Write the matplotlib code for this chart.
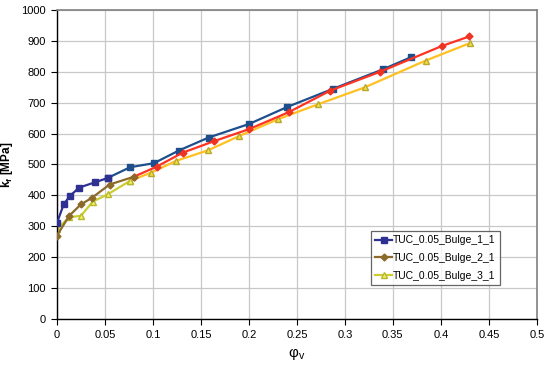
import numpy as np
import matplotlib.pyplot as plt

plt.rcParams['font.family'] = ['Liberation Sans', 'DejaVu Sans']

# data
x1 = [0, 0.007, 0.0135, 0.023, 0.0395, 0.0527, 0.0762, 0.101, 0.127, 0.158, 0.2003, 0.240, 0.288, 0.340, 0.369]
y1 = [311, 371, 398, 425, 442, 456, 491, 504, 545, 587, 631, 686, 745, 808, 847]

x2 = [0, 0.0128, 0.025, 0.036, 0.0548, 0.080, 0.104, 0.131, 0.1635, 0.200, 0.2415, 0.285, 0.337, 0.401, 0.4297]
y2 = [270, 334, 371, 391, 435, 460, 493, 538, 575, 614, 669, 739, 800, 883, 914]

x3 = [0, 0.0128, 0.025, 0.0374, 0.0527, 0.0762, 0.0977, 0.1237, 0.1577, 0.190, 0.230, 0.2716, 0.3205, 0.3843, 0.430]
y3 = [291, 329, 334, 380, 403, 447, 473, 511, 546, 592, 646, 694, 749, 836, 892]

labels = ['TUC_0.05_Bulge_1_1', 'TUC_0.05_Bulge_2_1', 'TUC_0.05_Bulge_3_1']

# first part of each curve drawn in a different colour (as in the picture)
n_early = 5

fig, ax = plt.subplots(figsize=(5.5, 3.65), dpi=100)
fig.subplots_adjust(left=0.1036, right=0.976, top=0.973, bottom=0.126)

# later (main) segments
ax.plot(x1[n_early:], y1[n_early:], color='#1f4e8c', lw=1.6, marker='s', ms=4.5,
        mfc='#1f4e8c', mec='#1f4e8c', zorder=3)
ax.plot(x2[n_early:], y2[n_early:], color='#ff3322', lw=1.6, marker='D', ms=3.5,
        mfc='#ee3322', mec='#ee3322', zorder=3)
ax.plot(x3[n_early:], y3[n_early:], color='#ffc020', lw=1.6, marker='^', ms=5,
        mfc='#f0e040', mec='#b8a830', zorder=2)

# early segments
ax.plot(x1[:n_early + 1], y1[:n_early + 1], color='#2e3192', lw=1.6, marker='s', ms=4.5,
        mfc='#2e3192', mec='#2e3192', zorder=3, label=labels[0])
ax.plot(x2[:n_early + 1], y2[:n_early + 1], color='#8b6a2a', lw=1.6, marker='D', ms=3.5,
        mfc='#8b6a2a', mec='#8b6a2a', zorder=3, label=labels[1])
ax.plot(x3[:n_early + 1], y3[:n_early + 1], color='#cccc33', lw=1.6, marker='^', ms=5,
        mfc='#f0f060', mec='#b8b830', zorder=2, label=labels[2])

ax.set_xlim(0, 0.5)
ax.set_ylim(0, 1000)
ax.set_xticks(np.arange(0, 0.501, 0.05))
ax.set_xticklabels(['0', '0.05', '0.1', '0.15', '0.2', '0.25', '0.3', '0.35', '0.4', '0.45', '0.5'])
ax.set_yticks(np.arange(0, 1001, 100))
ax.tick_params(labelsize=8, length=4, pad=4, direction='out', colors='black')
ax.grid(True, color='#c8c8c8', lw=0.9)
ax.set_axisbelow(True)

for s in ['top', 'right']:
    ax.spines[s].set_color('#808080')
    ax.spines[s].set_linewidth(1.2)
for s in ['left', 'bottom']:
    ax.spines[s].set_color('black')
    ax.spines[s].set_linewidth(1.0)

ax.set_ylabel('k$_\\mathregular{f}$ [MPa]', fontsize=8.5, fontweight='bold')
ax.yaxis.set_label_coords(-0.087, 0.5)
ax.set_xlabel('φ$_\\mathregular{v}$', fontsize=11, labelpad=4)

leg = ax.legend(loc='lower right', bbox_to_anchor=(0.923, 0.11), fontsize=7.5, frameon=True,
                fancybox=False, edgecolor='#404040', handlelength=1.6, handletextpad=0.1,
                borderpad=0.4, labelspacing=0.75, borderaxespad=0)
leg.get_frame().set_linewidth(0.9)

plt.savefig('out.png', dpi=100)
